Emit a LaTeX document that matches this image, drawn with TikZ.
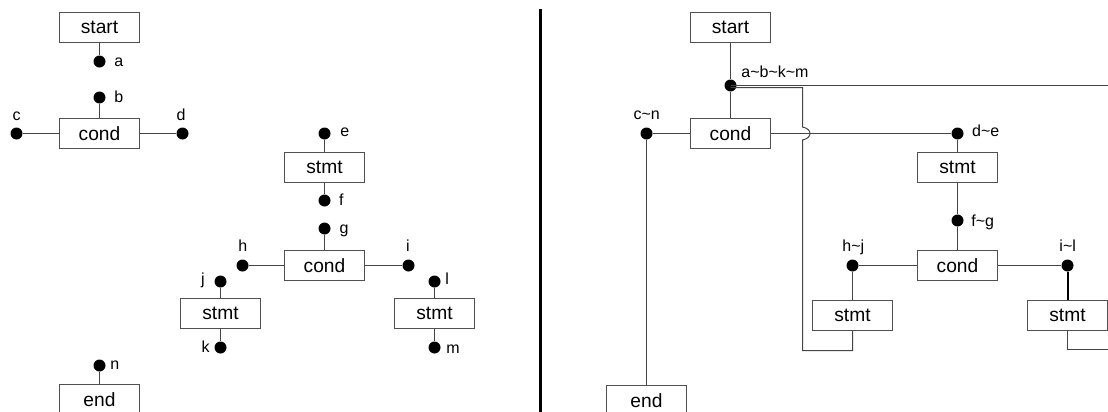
\documentclass[tikz,border=0pt]{standalone}
\usepackage{fontspec}
\setmainfont{Liberation Sans}
\definecolor{boxgray}{HTML}{505050}
\definecolor{linegray}{HTML}{444444}
\begin{document}
\begin{tikzpicture}[x=0.5pt,y=-0.5pt,
  box/.style={draw=boxgray,line width=0.5pt,minimum width=40pt,minimum height=15pt,inner sep=0pt,font=\fontsize{9.6}{11}\selectfont},
  dot/.style={circle,fill=black,inner sep=0pt,minimum size=6pt},
  lab/.style={inner sep=0pt,font=\fontsize{8}{9}\selectfont},
  wire/.style={draw=linegray,line width=0.5pt},
  boldwire/.style={draw=black,line width=1pt},
  divider/.style={draw=black,line width=1.5pt}]
\useasboundingbox (0,0) rectangle (1108,412);
\clip (0,0) rectangle (1108,412);
% ---------------- left ----------------
\node[box] (Lstart) at (99.5,27.5) {start};
\node[dot] (La) at (99.5,61.5) {};
\node[dot] (Lb) at (99.5,97.5) {};
\node[box] (Lcond1) at (99.5,133.5) {cond};
\node[dot] (Lc) at (16.5,133.5) {};
\node[dot] (Ld) at (182.5,133.5) {};
\node[dot] (Le) at (324.5,133.5) {};
\node[box] (Lstmt1) at (324.5,167.5) {stmt};
\node[dot] (Lf) at (324.5,200.5) {};
\node[dot] (Lg) at (324.5,228.5) {};
\node[box] (Lcond2) at (324.5,265.5) {cond};
\node[dot] (Lh) at (242.5,265.5) {};
\node[dot] (Li) at (408.5,265.5) {};
\node[dot] (Lj) at (220.5,281.5) {};
\node[box] (Lstmt2) at (220.5,313.5) {stmt};
\node[dot] (Lk) at (220.5,347.5) {};
\node[dot] (Ll) at (434.5,281.5) {};
\node[box] (Lstmt3) at (434.5,313.5) {stmt};
\node[dot] (Lm) at (434.5,347.5) {};
\node[dot] (Ln) at (99.5,365.5) {};
\node[box] (Lend) at (99.5,399.5) {end};

\draw[wire] (Lstart) -- (La);
\draw[wire] (Lb) -- (Lcond1);
\draw[wire] (Lc) -- (Lcond1);
\draw[wire] (Lcond1) -- (Ld);
\draw[wire] (Le) -- (Lstmt1);
\draw[wire] (Lstmt1) -- (Lf);
\draw[wire] (Lg) -- (Lcond2);
\draw[wire] (Lh) -- (Lcond2);
\draw[wire] (Lcond2) -- (Li);
\draw[wire] (Lj) -- (Lstmt2);
\draw[wire] (Lstmt2) -- (Lk);
\draw[wire] (Ll) -- (Lstmt3);
\draw[wire] (Lstmt3) -- (Lm);
\draw[wire] (Ln) -- (Lend);

\node[lab,anchor=base west] (tLa) at (114,66.7) {a};
\node[lab,anchor=base west] (tLb) at (114,102.3) {b};
\node[lab,anchor=base] (tLc) at (16.7,120.3) {c};
\node[lab,anchor=base] (tLd) at (181,120.7) {d};
\node[lab,anchor=base west] (tLe) at (340,136) {e};
\node[lab,anchor=base west] (tLf) at (338.7,205) {f};
\node[lab,anchor=base west] (tLg) at (339.3,233) {g};
\node[lab,anchor=base] (tLh) at (242.7,251.7) {h};
\node[lab,anchor=base] (tLi) at (408,251.7) {i};
\node[lab,anchor=base east] (tLj) at (205,284) {j};
\node[lab,anchor=base east] (tLk) at (210,352.7) {k};
\node[lab,anchor=base west] (tLl) at (445,284) {l};
\node[lab,anchor=base west] (tLm) at (446,353) {m};
\node[lab,anchor=base west] (tLn) at (110,369.3) {n};

% ---------------- divider ----------------
\coordinate (divtop) at (540.5,9);
\coordinate (divbot) at (540.5,416);
\draw[divider] (divtop) -- (divbot);

% ---------------- right ----------------
\node[box] (Rstart) at (730.5,27.5) {start};
\node[dot] (Rabkm) at (730.5,85.5) {};
\node[box] (Rcond1) at (730.5,133.5) {cond};
\node[dot] (Rcn) at (646.5,133.5) {};
\node[dot] (Rde) at (957.5,133.5) {};
\node[box] (Rstmt1) at (957.5,167.5) {stmt};
\node[dot] (Rfg) at (957.5,220.5) {};
\node[box] (Rcond2) at (957.5,265.5) {cond};
\node[dot] (Rhj) at (852.5,265.5) {};
\node[dot] (Ril) at (1067.5,265.5) {};
\node[box] (Rstmt2) at (852.5,315.5) {stmt};
\node[box] (Rstmt3) at (1067.5,315.5) {stmt};
\node[box] (Rend) at (646.5,400.5) {end};

\coordinate (Redge1) at (1112,85.5);
\coordinate (Redge2) at (1112,349.5);
\coordinate (Rl1) at (802.5,87.5);
\coordinate (Rb1) at (802.5,127);
\coordinate (Rb2) at (802.5,140);
\coordinate (Rl2) at (802.5,350.5);

\draw[wire] (Rstart) -- (Rabkm);
\draw[wire] (Rabkm) -- (Rcond1);
\draw[wire] (Rabkm.center) -- (Redge1);
\draw[wire] (Rabkm.center |- Rl1) -- (Rl1) -- (Rb1)
   .. controls (812.5,129) and (812.5,138) .. (Rb2) -- (Rl2) -| (Rstmt2.south);
\draw[wire] (Rcn) -- (Rcond1);
\draw[wire] (Rcn) -- (Rcn |- Rend.north);
\draw[wire] (Rcond1.east) -- (Rde);
\draw[wire] (Rde) -- (Rstmt1);
\draw[wire] (Rstmt1) -- (Rfg);
\draw[wire] (Rfg) -- (Rcond2);
\draw[wire] (Rhj) -- (Rcond2);
\draw[wire] (Rhj) -- (Rhj |- Rstmt2.north);
\draw[wire] (Rcond2) -- (Ril);
\draw[boldwire] (Ril) -- (Ril |- Rstmt3.north);
\draw[wire] (Rstmt3.south) |- (Redge2);

\node[lab,anchor=base west] (tRabkm) at (741,77.3) {a\textasciitilde b\textasciitilde k\textasciitilde m};
\node[lab,anchor=base] (tRcn) at (646.7,119) {c\textasciitilde n};
\node[lab,anchor=base west] (tRde) at (971.7,136) {d\textasciitilde e};
\node[lab,anchor=base west] (tRfg) at (971,226.7) {f\textasciitilde g};
\node[lab,anchor=base] (tRhj) at (853.3,251.7) {h\textasciitilde j};
\node[lab,anchor=base] (tRil) at (1067.7,251.7) {i\textasciitilde l};
\end{tikzpicture}
\end{document}
